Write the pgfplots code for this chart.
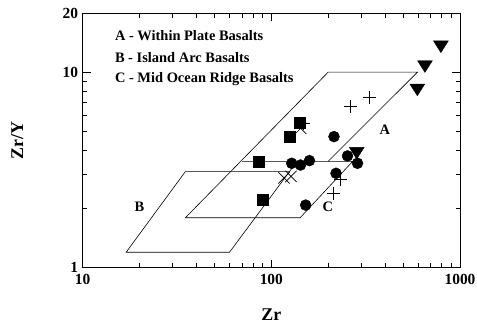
\documentclass[border=0pt]{standalone}
\usepackage{fontspec}
\setmainfont{Liberation Serif}
\usepackage{pgfplots}
\pgfplotsset{compat=1.18}
\begin{document}
\begin{tikzpicture}
\begin{axis}[
 scale only axis, width=377.3bp, height=254.4bp,
 xmode=log, ymode=log,
 xmin=10, xmax=1000, ymin=1, ymax=20,
 xtick={10,100,1000}, xticklabels={10,100,1000},
 ytick={1,10,20}, yticklabels={1,10,20},
 minor xtick={20,30,40,50,60,70,80,90,200,300,400,500,600,700,800,900},
 minor ytick={2,3,4,5,6,7,8,9},
 tick align=inside,
 major tick length=8bp, minor tick length=4.5bp,
 tick style={black, line width=0.8pt},
 axis line style={line width=0.9pt},
 ticklabel style={font=\fontsize{15.5}{15.5}\selectfont\bfseries},
 xticklabel style={yshift=-3.5bp},
 yticklabel style={xshift=-1bp},
 /pgf/number format/assume math mode=true,
 xlabel={Zr}, ylabel={Zr/Y},
 label style={font=\fontsize{18}{18}\selectfont\bfseries},
 xlabel style={at={(axis description cs:0.5,-0.185)}, anchor=center},
 ylabel style={at={(axis description cs:-0.173,0.5)}, anchor=center},
 clip=false,
]
% fields
\addplot[black, line width=0.6pt, no marks] coordinates {(35,1.8) (200,10) (595,10) (200,3.5)};
\addplot[black, line width=0.6pt, no marks] coordinates {(70,3.5) (270,3.5) (142,1.8) (35,1.8)};
\addplot[black, line width=0.6pt, no marks] coordinates {(137,3.5) (60,1.2) (17,1.2) (35,3.1) (125,3.1)};
% data
\addplot[only marks, mark=square*, mark size=5.5bp, black] coordinates {(140.6,5.52) (124.4,4.65) (86,3.5) (90,2.24)};
\addplot[only marks, mark=*, mark size=5.5bp, black] coordinates {(214.8,4.68) (128.2,3.42) (142.7,3.35) (159.2,3.53) (253.3,3.73) (286.2,3.42) (220.2,3.04) (152,2.09)};
\addplot[only marks, mark=triangle*, mark size=7.8bp, mark options={rotate=180, xscale=1.1}, black] coordinates {(792,13.8) (652,10.93) (594,8.3) (283.5,3.94)};
\addplot[only marks, mark=+, mark size=6.5bp, black, mark options={line width=0.7pt}] coordinates {(330.4,7.44) (263.4,6.71) (233.2,2.83) (213,2.40) (147.7,5.48)};
\addplot[only marks, mark=x, mark size=8bp, black, mark options={line width=0.7pt}] coordinates {(143,5.16) (116.7,2.88) (127,2.93)};
% labels
\node[anchor=west, inner sep=0pt, font=\fontsize{14.5}{14.5}\selectfont\bfseries] at (axis cs:14.8,15.3) {A - Within Plate Basalts};
\node[anchor=west, inner sep=0pt, font=\fontsize{14.5}{14.5}\selectfont\bfseries] at (axis cs:14.8,11.9) {B - Island Arc Basalts};
\node[anchor=west, inner sep=0pt, font=\fontsize{14.5}{14.5}\selectfont\bfseries] at (axis cs:14.8,9.23) {C - Mid Ocean Ridge Basalts};
\node[font=\fontsize{14.5}{14.5}\selectfont\bfseries] at (axis cs:400,5.1) {A};
\node[font=\fontsize{14.5}{14.5}\selectfont\bfseries] at (axis cs:20,2.04) {B};
\node[font=\fontsize{14.5}{14.5}\selectfont\bfseries] at (axis cs:199,2.05) {C};
\end{axis}
\pgfresetboundingbox
\path (current axis.south west) ++(-82.7bp,-55.3bp) rectangle ([shift={(394.3bp,267.7bp)}]current axis.south west);
\end{tikzpicture}
\end{document}
